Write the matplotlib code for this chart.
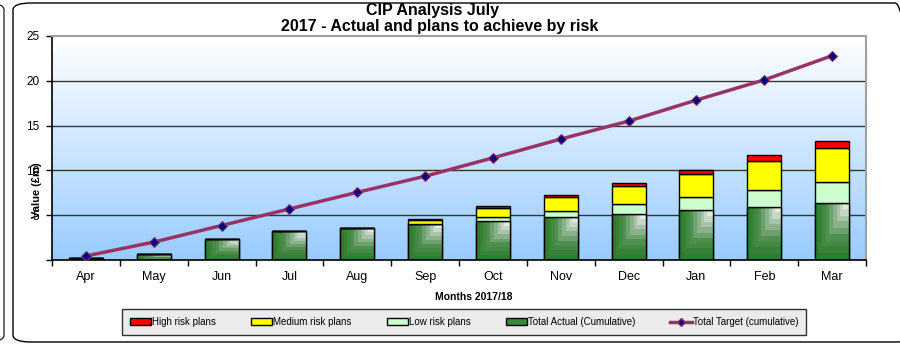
import numpy as np
import matplotlib
matplotlib.use("Agg")
import matplotlib.pyplot as plt
from matplotlib.colors import LinearSegmentedColormap
from matplotlib.patches import Patch, FancyBboxPatch
from matplotlib.lines import Line2D

plt.rcParams['font.family'] = ['Liberation Sans', 'DejaVu Sans']

months = ['Apr', 'May', 'Jun', 'Jul', 'Aug', 'Sep', 'Oct', 'Nov', 'Dec', 'Jan', 'Feb', 'Mar']
actual = [0.2, 0.65, 2.3, 3.2, 3.55, 4.0, 4.35, 4.75, 5.1, 5.55, 5.95, 6.4]
low = [0, 0, 0, 0, 0, 0.05, 0.45, 0.75, 1.2, 1.5, 1.85, 2.25]
medium = [0, 0, 0, 0, 0, 0.45, 1.05, 1.5, 2.0, 2.6, 3.25, 3.8]
high = [0, 0, 0, 0, 0, 0.1, 0.15, 0.3, 0.3, 0.45, 0.65, 0.85]
target = [0.45, 2.0, 3.85, 5.7, 7.55, 9.35, 11.4, 13.5, 15.5, 17.85, 20.1, 22.8]

fig = plt.figure(figsize=(9, 3.44), dpi=100)
ax = fig.add_axes([52 / 900, 84 / 344, 814 / 900, 224 / 344])

x = np.arange(len(months))
w = 0.5

# background gradient
bg = LinearSegmentedColormap.from_list('bg', ['#99CCFF', '#FFFFFF'])
ax.imshow(np.linspace(0, 1, 256).reshape(-1, 1), extent=[-0.5, 11.5, 0, 25],
          aspect='auto', cmap=bg, origin='lower', zorder=0)

for yv in [5, 10, 15, 20]:
    ax.axhline(yv, color='#333333', lw=1, zorder=1)

# actual bars with stepped green shading
green = LinearSegmentedColormap.from_list('gr', ['#2E7D2E', '#4F8F4F', '#A8C4A8', '#FFFFFF'])
bars = ax.bar(x, actual, w, color='#2E7D2E', edgecolor='black', lw=1, zorder=2)
uu, vv = np.meshgrid(np.linspace(0, 1, 60), np.linspace(0, 1, 60))
shade = np.floor(np.minimum(uu * 1.05, vv) * 9) / 9
for b in bars:
    im = ax.imshow(shade, extent=[b.get_x(), b.get_x() + w, 0, b.get_height()],
                   aspect='auto', cmap=green, origin='lower', zorder=2.1,
                   interpolation='nearest')
    im.set_clip_path(b)
ax.bar(x, actual, w, fill=False, edgecolor='black', lw=1, zorder=2.2)

bottom = np.array(actual)
ax.bar(x, low, w, bottom=bottom, color='#CCFFCC', edgecolor='black', lw=1, zorder=2.2)
bottom = bottom + np.array(low)
ax.bar(x, medium, w, bottom=bottom, color='#FFFF00', edgecolor='black', lw=1, zorder=2.2)
bottom = bottom + np.array(medium)
ax.bar(x, high, w, bottom=bottom, color='#FF0000', edgecolor='black', lw=1, zorder=2.2)

ax.plot(x, target, color='#993366', lw=2.5, marker='D', markersize=5,
        markerfacecolor='#000080', markeredgecolor='#993366', markeredgewidth=0.8, zorder=3)

ax.set_xlim(-0.5, 11.5)
ax.set_ylim(0, 25)
ax.set_xticks(x)
ax.set_xticklabels(months, fontsize=9)
ax.set_xticks(np.arange(-0.5, 12, 1), minor=True)
ax.tick_params(axis='x', which='major', length=0, pad=8)
ax.tick_params(axis='x', which='minor', length=4, width=1)
ax.set_yticks([0, 5, 10, 15, 20, 25])
ax.set_yticklabels(['', '5', '10', '15', '20', '25'], fontsize=8.5)
ax.tick_params(axis='y', length=4, width=1, pad=5)

for s in ['left', 'bottom']:
    ax.spines[s].set_color('black')
    ax.spines[s].set_linewidth(1.2)
for s in ['top', 'right']:
    ax.spines[s].set_color('#A0A0A0')
    ax.spines[s].set_linewidth(1.5)

fig.text(37 / 900, 1 - 190 / 344, 'Value (£m)', rotation=90, fontsize=8,
         fontweight='bold', ha='center', va='center')
fig.text(474 / 900, 1 - 297 / 344, 'Months 2017/18', fontsize=7.5,
         fontweight='bold', ha='center', va='center')
fig.text(432 / 900, 1 - 11 / 344, 'CIP Analysis July',
         fontsize=11.5, fontweight='bold', ha='center', va='center')
fig.text(440 / 900, 1 - 27 / 344, '2017 - Actual and plans to achieve by risk',
         fontsize=11.5, fontweight='bold', ha='center', va='center')

handles = [
    Patch(facecolor='#FF0000', edgecolor='black', label='High risk plans'),
    Patch(facecolor='#FFFF00', edgecolor='black', label='Medium risk plans'),
    Patch(facecolor='#CCFFCC', edgecolor='black', label='Low risk plans'),
    Patch(facecolor='#3C8A3C', edgecolor='black', label='Total Actual (Cumulative)'),
    Line2D([0], [0], color='#993366', lw=2.5, marker='D', markersize=4,
           markerfacecolor='#000080', markeredgecolor='#993366', label='Total Target (cumulative)'),
]
leg = fig.legend(handles=handles, loc='center', bbox_to_anchor=(464 / 900, 1 - 322 / 344),
                 ncol=5, fontsize=7, frameon=True, fancybox=False,
                 handlelength=2.2, handleheight=0.7, handletextpad=0.1, columnspacing=3.6,
                 borderpad=0.8, borderaxespad=0)
leg.get_frame().set_edgecolor('black')
leg.get_frame().set_facecolor('#E6E6E6')
leg.get_frame().set_linewidth(1)

# chart frames
fig.patches.append(FancyBboxPatch((13 / 900, 2 / 344), 900 / 900, 339 / 344,
                                  boxstyle='round,pad=0,rounding_size=0.02',
                                  transform=fig.transFigure, fill=False,
                                  edgecolor='black', lw=1))
fig.patches.append(FancyBboxPatch((-0.5, 2 / 344), 0.5 + 4 / 900, 339 / 344,
                                  boxstyle='round,pad=0,rounding_size=0.02',
                                  transform=fig.transFigure, fill=False,
                                  edgecolor='#333333', lw=1))

fig.savefig('out.png', dpi=100)
